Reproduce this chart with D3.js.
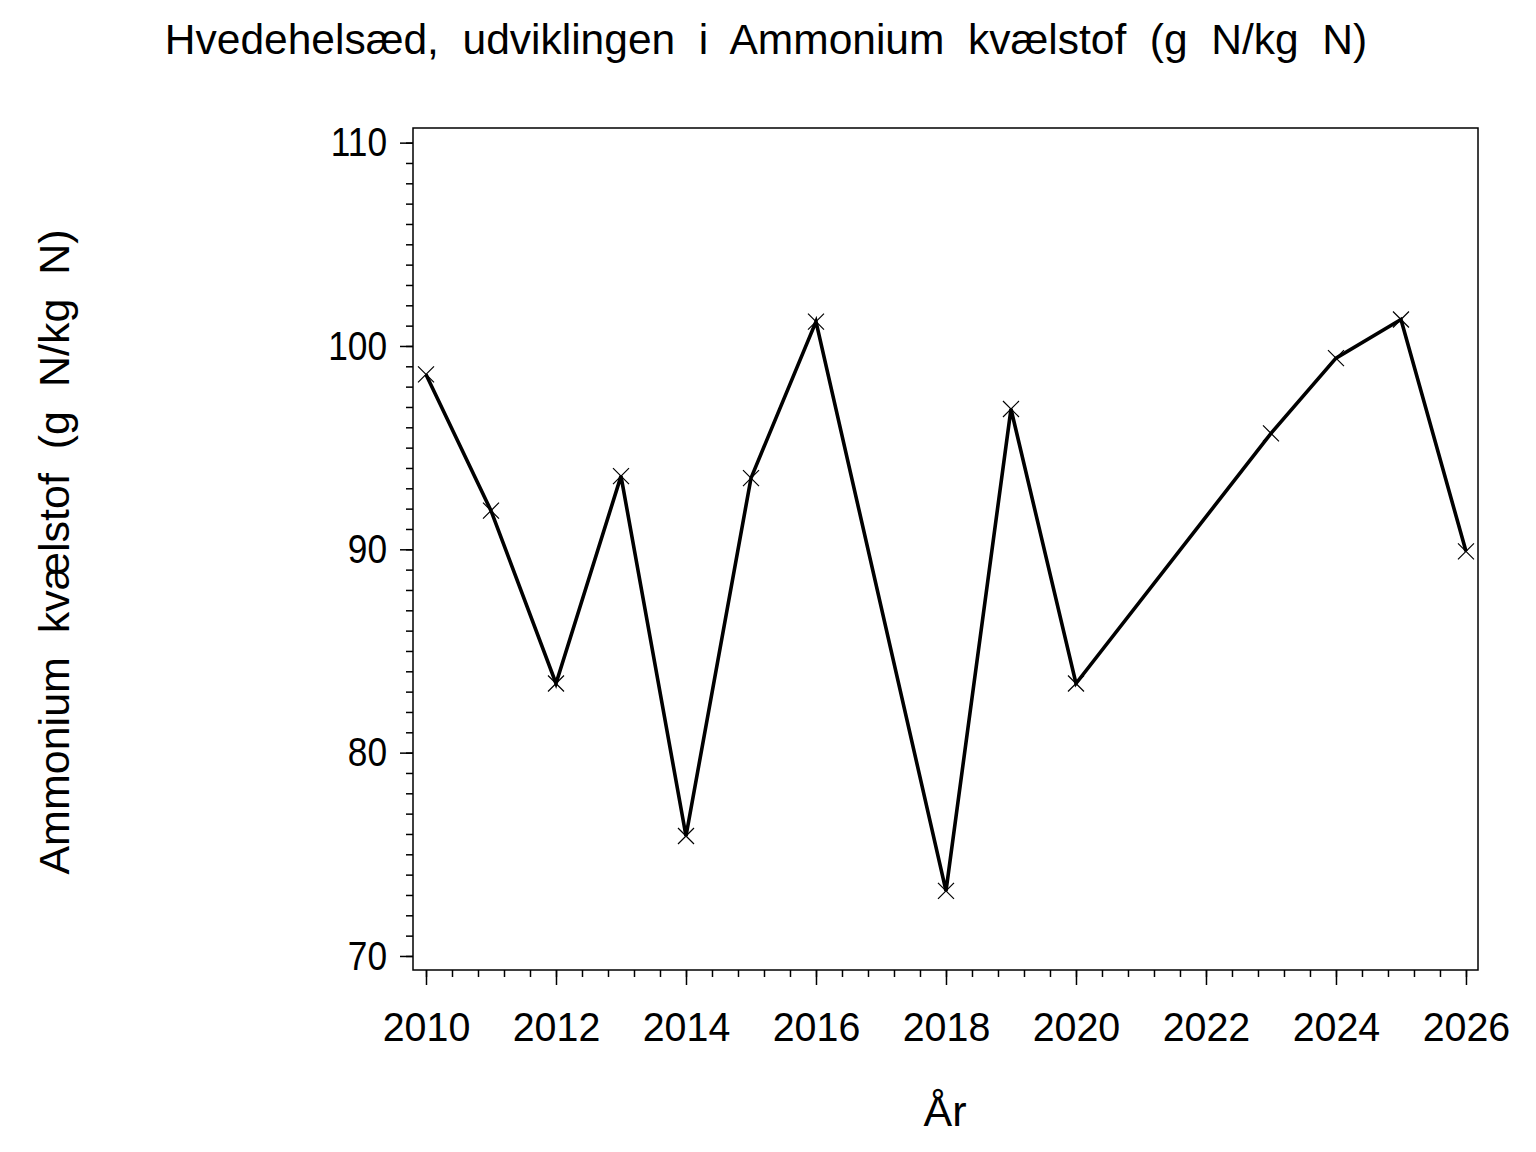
<!DOCTYPE html>
<html>
<head>
<meta charset="utf-8">
<script src="https://cdn.jsdelivr.net/npm/d3@7"></script>
<style>
html,body{margin:0;padding:0;background:#fff;}
text{font-family:"Liberation Sans",Arial,Helvetica,sans-serif;fill:#000;white-space:pre;}
</style>
</head>
<body>
<svg id="chart" width="1536" height="1152"></svg>
<script>
const titleText = "Hvedehelsæd,  udviklingen  i  Ammonium  kvælstof  (g  N/kg  N)";
const yTitle = "Ammonium  kvælstof  (g  N/kg  N)";
const xTitle = "År";
const years = [2010, 2011, 2012, 2013, 2014, 2015, 2016, 2018, 2019, 2020, 2023, 2024, 2025, 2026];
const values = [98.6, 91.9, 83.4, 93.6, 75.9, 93.5, 101.2, 73.2, 96.9, 83.4, 95.7, 99.4, 101.3, 89.9];
const yTicks = [70, 80, 90, 100, 110];
const xTicks = [2010, 2012, 2014, 2016, 2018, 2020, 2022, 2024, 2026];

const svg = d3.select("#chart");
const L = 413, R = 1478, T = 128, B = 970;
const x = d3.scaleLinear().domain([2009.8, 2026.185]).range([L, R]);
const y = d3.scaleLinear().domain([69.31, 110.72]).range([B, T]);

// frame
svg.append("rect").attr("x", L).attr("y", T).attr("width", R - L).attr("height", B - T)
  .attr("fill", "none").attr("stroke", "#000").attr("stroke-width", 1.5);

// y axis
const yMinor = d3.range(70, 111, 1);
const gyMinor = svg.append("g").attr("transform", `translate(${L},0)`)
  .call(d3.axisLeft(y).tickValues(yMinor).tickSize(7).tickFormat(""));
const gy = svg.append("g").attr("transform", `translate(${L},0)`)
  .call(d3.axisLeft(y).tickValues(yTicks).tickSize(13).tickPadding(13).tickFormat(d3.format("d")));

// x axis
const xMinor = d3.range(2010, 2026.01, 0.4);
const gxMinor = svg.append("g").attr("transform", `translate(0,${B})`)
  .call(d3.axisBottom(x).tickValues(xMinor).tickSize(7).tickFormat(""));
const gx = svg.append("g").attr("transform", `translate(0,${B})`)
  .call(d3.axisBottom(x).tickValues(xTicks).tickSize(15).tickPadding(27).tickFormat(d3.format("d")));

[gyMinor, gy, gxMinor, gx].forEach(g => {
  g.select(".domain").remove();
  g.selectAll(".tick line").attr("stroke", "#000").attr("stroke-width", 1.5);
});
gy.selectAll(".tick text").attr("font-size", 41).attr("font-family", "Liberation Sans, Arial, sans-serif").attr("fill", "#000")
  .each(function () {
    const w = this.getComputedTextLength();
    d3.select(this).attr("textLength", w * 0.86).attr("lengthAdjust", "spacingAndGlyphs");
  });
gx.selectAll(".tick text").attr("font-size", 41).attr("font-family", "Liberation Sans, Arial, sans-serif").attr("fill", "#000")
  .each(function () {
    const w = this.getComputedTextLength();
    d3.select(this).attr("textLength", w * 0.96).attr("lengthAdjust", "spacingAndGlyphs");
  });

// line
const pts = years.map((yr, i) => [yr, values[i]]);
svg.append("path").datum(pts)
  .attr("fill", "none").attr("stroke", "#000").attr("stroke-width", 3.6)
  .attr("stroke-linejoin", "miter")
  .attr("d", d3.line().x(d => x(d[0])).y(d => y(d[1])));

// markers
const m = 8;
const mk = svg.append("g").selectAll("g").data(pts).join("g")
  .attr("transform", d => `translate(${x(d[0])},${y(d[1])})`);
mk.append("path").attr("d", `M${-m},${-m}L${m},${m}M${-m},${m}L${m},${-m}`)
  .attr("stroke", "#000").attr("stroke-width", 1.2).attr("fill", "none");

// titles
svg.append("text").attr("x", 766).attr("y", 54).attr("text-anchor", "middle")
  .attr("font-size", 42.5).text(titleText);
svg.append("text").attr("transform", "translate(69,552) rotate(-90)").attr("text-anchor", "middle")
  .attr("font-size", 43).text(yTitle);
svg.append("text").attr("x", 945).attr("y", 1126).attr("text-anchor", "middle")
  .attr("font-size", 43).text(xTitle);
</script>
</body>
</html>
